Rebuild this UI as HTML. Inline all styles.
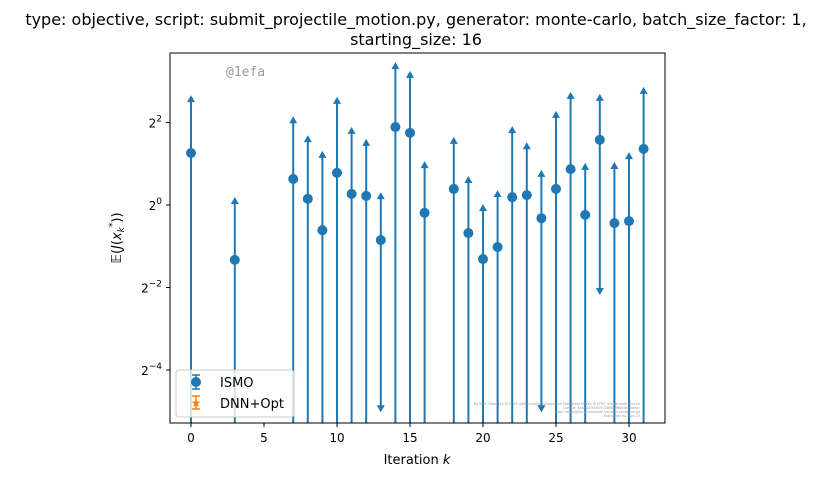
<!DOCTYPE html>
<html><head><meta charset="utf-8"><style>
html,body{margin:0;padding:0;background:#fff;width:833px;height:477px;overflow:hidden}
svg{display:block}
svg text{font-family:"DejaVu Sans","Liberation Sans",sans-serif}
</style></head><body>
<svg id="chart" width="833" height="477" xmlns="http://www.w3.org/2000/svg">
<text x="416" y="25" font-size="16" text-anchor="middle">type: objective, script: submit_projectile_motion.py, generator: monte-carlo, batch_size_factor: 1,</text>
<text x="416" y="45" font-size="16" text-anchor="middle">starting_size: 16</text>
<defs><clipPath id="pc"><rect x="170" y="53" width="495" height="370"/></clipPath></defs>
<g id="marks" clip-path="url(#pc)"></g>
<rect x="170" y="53" width="495" height="370" fill="none" stroke="#000" stroke-width="1"/>
<text x="226" y="76" font-size="13" fill="#999" style="font-family:'DejaVu Sans Mono','Liberation Mono',monospace">@1efa</text>
<g font-size="3.2" fill="#999" text-anchor="end">
<text x="640" y="405">By Kjetil Olsen Lye @ ETHZ kjetil.o.lye@gmail.com and Siddhartha Mishra @ ETHZ, simple.math.ethz.ch</text>
<text x="640" y="409">Commit: 9a4ef01f3b3f71328f80ef6b5a8e6bfeac</text>
<text x="640" y="413">Repo: https://github.com/kjetil-lye/ismo_validation.git</text>
<text x="640" y="417">Hostname: eu-login-23</text>
</g>
<g id="axes"></g>
<text x="417" y="464" font-size="13" text-anchor="middle">Iteration <tspan font-style="italic">k</tspan></text>
<text transform="translate(121,238) rotate(-90)" font-size="13" text-anchor="middle">𝔼(<tspan font-style="italic">J</tspan>(<tspan font-style="italic">x</tspan><tspan font-size="9" dy="3" font-style="italic">k</tspan><tspan font-size="9" dy="-9">*</tspan><tspan dy="6">))</tspan></text>
<g>
<rect x="176" y="370" width="118" height="47" rx="3" fill="#fff" fill-opacity="0.8" stroke="#ccc"/>
<g>
<line x1="196" y1="375" x2="196" y2="389" stroke="#1f77b4" stroke-width="1.5"/>
<line x1="192" y1="375" x2="200" y2="375" stroke="#1f77b4" stroke-width="1.5"/>
<line x1="192" y1="389" x2="200" y2="389" stroke="#1f77b4" stroke-width="1.5"/>
<circle cx="196" cy="382" r="5" fill="#1f77b4"/>
<text x="220" y="387" font-size="13">ISMO</text></g>
<g>
<line x1="196" y1="396" x2="196" y2="409" stroke="#ff7f0e" stroke-width="1.5"/>
<line x1="192" y1="396" x2="200" y2="396" stroke="#ff7f0e" stroke-width="1.5"/>
<line x1="192" y1="409" x2="200" y2="409" stroke="#ff7f0e" stroke-width="1.5"/>
<text x="196" y="407" font-size="12" fill="#ff7f0e" text-anchor="middle">★</text>
<text x="220" y="408" font-size="13">DNN+Opt</text></g>
</g>
</svg>
<script>
const iterations=[0,3,7,8,9,10,11,12,13,14,15,16,18,19,20,21,22,23,24,25,26,27,28,29,30,31];
const meanLog2=[1.26,-1.33,0.63,0.15,-0.61,0.78,0.27,0.22,-0.85,1.89,1.75,-0.19,0.39,-0.68,-1.31,-1.02,0.19,0.24,-0.32,0.39,0.87,-0.24,1.58,-0.44,-0.39,1.36];
const upperLog2=[2.59,0.12,2.08,1.62,1.24,2.55,1.82,1.53,0.24,3.39,3.18,0.99,1.58,0.63,-0.05,0.29,1.84,1.45,0.78,2.21,2.67,0.95,2.62,0.97,1.21,2.79];
const lowerLog2=[-9,-9,-9,-9,-9,-9,-9,-9,-4.95,-9,-9,-9,-9,-9,-9,-9,-9,-9,-4.95,-9,-9,-9,-2.11,-9,-9,-9];
const xTicks=[0,5,10,15,20,25,30];
const yTicks=[2,0,-2,-4];
const sx=v=>191+v*14.6;
const sy=v=>205-v*41.25;
const NS="http://www.w3.org/2000/svg";
const marks=document.getElementById('marks'),axes=document.getElementById('axes');
function mk(p,tag,a){const e=document.createElementNS(NS,tag);for(const k in a)e.setAttribute(k,a[k]);p.appendChild(e);return e;}
const C="#1f77b4";
iterations.forEach((k,i)=>{
 const g=mk(marks,'g',{});
 
 
 const x=sx(k),yu=sy(upperLog2[i]),yl=sy(lowerLog2[i]),ym=sy(meanLog2[i]);
 mk(g,'line',{x1:x,y1:yu,x2:x,y2:yl,stroke:C,'stroke-width':2});
 mk(g,'path',{d:`M${x-4},${yu+4}L${x},${yu-3}L${x+4},${yu+4}Z`,fill:C});
 if(lowerLog2[i]>-8) mk(g,'path',{d:`M${x-4},${yl-4}L${x},${yl+3}L${x+4},${yl-4}Z`,fill:C});
 const c=mk(g,'circle',{cx:x,cy:ym,r:5,fill:C});
 
 
});
xTicks.forEach(t=>{
 const g=mk(axes,'g',{});
 
 
 mk(g,'line',{x1:sx(t),y1:423,x2:sx(t),y2:427,stroke:'#000'});
 const tx=mk(g,'text',{x:sx(t),y:442,'font-size':12,'text-anchor':'middle'});tx.textContent=t;
});
yTicks.forEach(t=>{
 const g=mk(axes,'g',{});
 
 
 mk(g,'line',{x1:166,y1:sy(t),x2:170,y2:sy(t),stroke:'#000'});
 const tx=mk(g,'text',{x:162,y:sy(t)+5,'font-size':12,'text-anchor':'end'});
 tx.textContent='2';
 const sp=mk(tx,'tspan',{dy:-6,'font-size':9});sp.textContent=(t<0?'−'+(-t):t);
});
</script>
</body></html>
